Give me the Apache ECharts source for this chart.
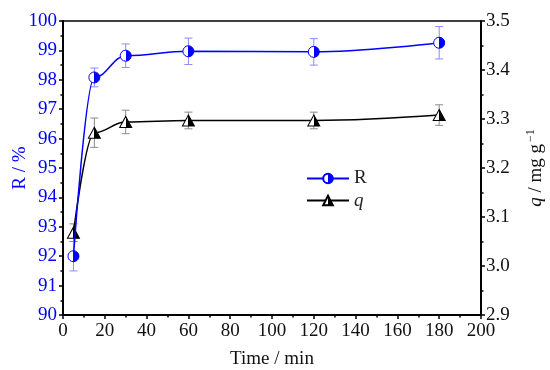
<!DOCTYPE html>
<html><head><meta charset="utf-8">
<script src="https://cdn.jsdelivr.net/npm/echarts@6/dist/echarts.min.js"></script>
<style>html,body{margin:0;padding:0;background:#fff}#c{width:550px;height:370px}</style>
</head><body><div id="c"></div>
<script>
var time = [5, 15, 30, 60, 120, 180];
var R = [92.0, 98.08, 98.82, 98.97, 98.95, 99.26];
var Rerr = [0.5, 0.32, 0.4, 0.45, 0.45, 0.55];
var q = [3.068, 3.272, 3.294, 3.297, 3.297, 3.308];
var qerr = [0.018, 0.03, 0.024, 0.017, 0.017, 0.021];
var xTicks = [0, 20, 40, 60, 80, 100, 120, 140, 160, 180, 200];

var FONT = 'Liberation Serif';
var BLUE = '#0000ff';
var FS = 19;

function halfFill(c) {
  return {type: 'linear', x: 0, y: 0, x2: 1, y2: 0,
    colorStops: [{offset: 0, color: '#fff'}, {offset: 0.5, color: '#fff'},
                 {offset: 0.5, color: c}, {offset: 1, color: c}]};
}
function errRender(color) {
  return function (params, api) {
    var x = api.value(0), lo = api.value(1), hi = api.value(2);
    var p1 = api.coord([x, lo]), p2 = api.coord([x, hi]);
    var w = 4;
    var st = {stroke: color, lineWidth: 1};
    return {type: 'group', children: [
      {type: 'line', shape: {x1: p1[0], y1: p1[1], x2: p2[0], y2: p2[1]}, style: st},
      {type: 'line', shape: {x1: p1[0] - w, y1: p1[1], x2: p1[0] + w, y2: p1[1]}, style: st},
      {type: 'line', shape: {x1: p2[0] - w, y1: p2[1], x2: p2[0] + w, y2: p2[1]}, style: st}
    ]};
  };
}
var rData = time.map(function (t, i) { return [t, R[i]]; });
var qData = time.map(function (t, i) { return [t, q[i]]; });
var rErrData = time.map(function (t, i) { return [t, R[i] - Rerr[i], R[i] + Rerr[i]]; });
var qErrData = time.map(function (t, i) { return [t, q[i] - qerr[i], q[i] + qerr[i]]; });

var chart = echarts.init(document.getElementById('c'));
chart.setOption({
  animation: false,
  textStyle: {fontFamily: FONT},
  grid: {left: 63, right: 69, top: 21, bottom: 55, show: true, borderColor: '#000', borderWidth: 1.5,
         containLabel: false, outerBoundsMode: 'none'},
  legend: {
    data: ['R', 'q'], orient: 'vertical', left: 301, top: 164,
    itemWidth: 42, itemHeight: 12, itemGap: 3,
    textStyle: {fontFamily: FONT, fontSize: FS, color: '#222', rich: {i: {fontStyle: 'italic', fontFamily: FONT, fontSize: FS, color: '#222'}}},
    formatter: function (n) { return n === 'q' ? '{i|q}' : n; }
  },
  xAxis: {
    type: 'value', min: 0, max: 200, interval: 20,
    name: 'Time / min', nameLocation: 'middle', nameGap: 35, nameMoveOverlap: false,
    nameTextStyle: {fontFamily: FONT, fontSize: FS, color: '#111'},
    axisLine: {lineStyle: {color: '#000', width: 2}},
    axisTick: {length: 4, lineStyle: {color: '#000', width: 1.5}},
    minorTick: {show: true, splitNumber: 2, length: 2.5, lineStyle: {color: '#000', width: 1.5}},
    splitLine: {show: false},
    axisLabel: {fontFamily: FONT, fontSize: FS, color: '#111', margin: 7,
      formatter: function (v) { return xTicks.indexOf(v) >= 0 ? String(v) : ''; }}
  },
  yAxis: [{
    type: 'value', min: 90, max: 100, interval: 1,
    name: 'R / %', nameLocation: 'middle', nameGap: 33, nameRotate: 90, nameMoveOverlap: false,
    nameTextStyle: {fontFamily: FONT, fontSize: FS, color: BLUE},
    axisLine: {show: true, lineStyle: {color: '#000', width: 2}},
    axisTick: {show: true, length: 4, lineStyle: {color: '#000', width: 1.5}},
    minorTick: {show: true, splitNumber: 2, length: 2.5, lineStyle: {color: '#000', width: 1.5}},
    splitLine: {show: false},
    axisLabel: {fontFamily: FONT, fontSize: FS, color: BLUE, margin: 6}
  }, {
    type: 'value', min: 2.9, max: 3.5, interval: 0.1, position: 'right',
    name: '{i|q} / mg g{s|−1}', nameLocation: 'middle', nameGap: 44, nameRotate: 90, nameMoveOverlap: false,
    nameTextStyle: {fontFamily: FONT, fontSize: FS, color: '#111',
      rich: {i: {fontStyle: 'italic', fontFamily: FONT, fontSize: FS, color: '#111'},
             s: {fontFamily: FONT, fontSize: 12, color: '#111', padding: [0, 0, 10, 2]}}},
    axisLine: {show: true, lineStyle: {color: '#000', width: 2}},
    axisTick: {show: true, length: 4, lineStyle: {color: '#000', width: 1.5}},
    minorTick: {show: true, splitNumber: 2, length: 2.5, lineStyle: {color: '#000', width: 1.5}},
    splitLine: {show: false},
    axisLabel: {fontFamily: FONT, fontSize: FS, color: '#111', margin: 5,
      formatter: function (v) { return v.toFixed(1); }}
  }],
  series: [
    {type: 'custom', name: 'Rerr', yAxisIndex: 0, data: rErrData, renderItem: errRender('#8a8aff'), z: 1,
     encode: {x: 0, y: [1, 2]}, silent: true},
    {type: 'custom', name: 'qerr', yAxisIndex: 1, data: qErrData, renderItem: errRender('#8a8a8a'), z: 1,
     encode: {x: 0, y: [1, 2]}, silent: true},
    {type: 'line', name: 'q', yAxisIndex: 1, data: qData, smooth: 0.4, smoothMonotone: 'x',
     symbol: 'triangle', symbolSize: [12, 11],
     lineStyle: {color: '#000', width: 1.5},
     itemStyle: {color: halfFill('#000'), borderColor: '#000', borderWidth: 1}, z: 3},
    {type: 'line', name: 'R', yAxisIndex: 0, data: rData, smooth: 0.4, smoothMonotone: 'x',
     symbol: 'circle', symbolSize: 11,
     lineStyle: {color: BLUE, width: 1.5},
     itemStyle: {color: halfFill(BLUE), borderColor: BLUE, borderWidth: 1}, z: 4}
  ]
});
</script></body></html>
